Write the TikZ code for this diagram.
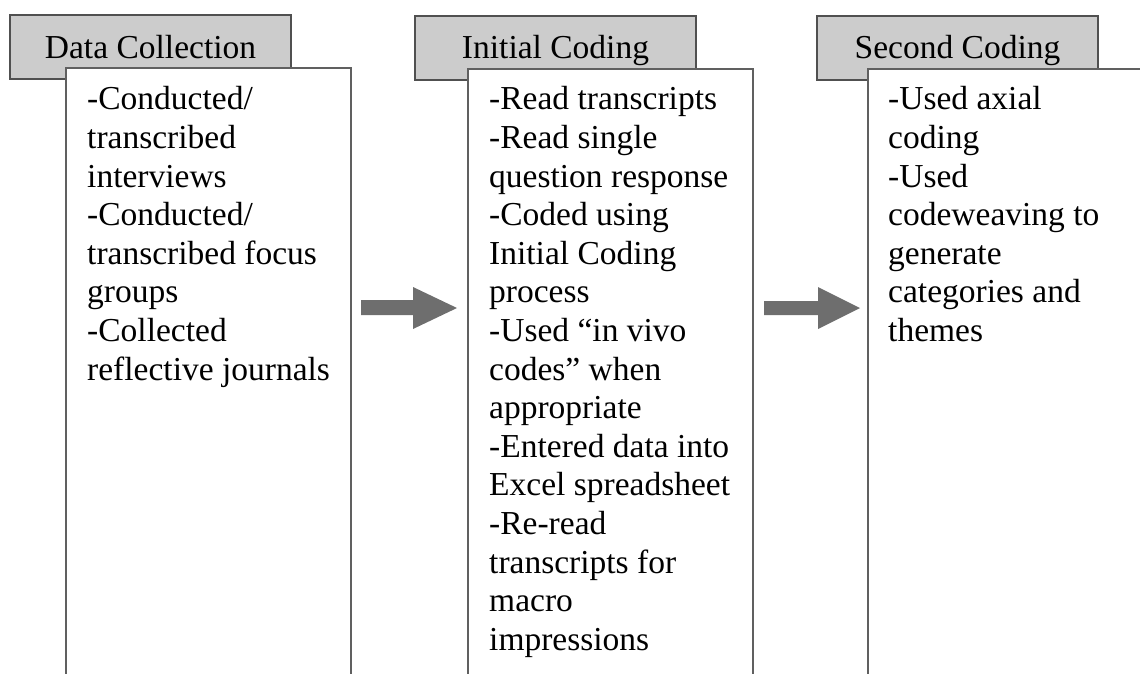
\documentclass[tikz,border=0pt]{standalone}
\usepackage{fontspec}
\setmainfont{Liberation Serif}
\definecolor{hdrfill}{HTML}{CCCCCC}
\definecolor{hdrline}{HTML}{505050}
\definecolor{boxline}{HTML}{606060}
\definecolor{arrfill}{HTML}{6E6E6E}
\tikzset{
  hdrbox/.style={fill=hdrfill, draw=hdrline, line width=1.8pt},
  bodybox/.style={fill=white, draw=boxline, line width=1.8pt},
  hdrtext/.style={anchor=base, inner sep=0pt, font=\fontsize{33.5}{38.6}\selectfont},
  bodytext/.style={anchor=north west, inner sep=0pt, align=left, font=\fontsize{33.5}{38.6}\selectfont},
  blockarrow/.style={fill=arrfill, draw=none}
}
\begin{document}
\begin{tikzpicture}[x=1pt,y=-1pt]
\useasboundingbox (0,0) rectangle (1140,673);
\clip (0,0) rectangle (1140,673);
% headers
\draw[hdrbox] (10,15) rectangle (291,79);
\draw[hdrbox] (415,16) rectangle (696,80);
\draw[hdrbox] (817,16) rectangle (1098,80);
\node[hdrtext] (h1) at (150.5,58) {Data Collection};
\node[hdrtext] (h2) at (555.5,58) {Initial Coding};
\node[hdrtext] (h3) at (957.5,58) {Second Coding};
% body boxes
\draw[bodybox] (66,68) rectangle (351,700);
\draw[bodybox] (468,69) rectangle (753,700);
\draw[bodybox] (868,69) rectangle (1170,700);
\node[bodytext] (t1) at (87,86.5) {-Conducted/\\transcribed\\interviews\\-Conducted/\\transcribed focus\\groups\\-Collected\\reflective journals};
\node[bodytext] (t2) at (489,86.5) {-Read transcripts\\-Read single\\question response\\-Coded using\\Initial Coding\\process\\-Used “in vivo\\codes” when\\appropriate\\-Entered data into\\Excel spreadsheet\\-Re-read\\transcripts for\\macro\\impressions};
\node[bodytext] (t3) at (888,86.5) {-Used axial\\coding\\-Used\\codeweaving to\\generate\\categories and\\themes};
% arrows
\fill[blockarrow] (361,300) -- (413,300) -- (413,287) -- (457,308) -- (413,329) -- (413,315) -- (361,315) -- cycle;
\fill[blockarrow] (764,301) -- (818,301) -- (818,287) -- (860,308) -- (818,329) -- (818,315) -- (764,315) -- cycle;
\end{tikzpicture}
\end{document}
